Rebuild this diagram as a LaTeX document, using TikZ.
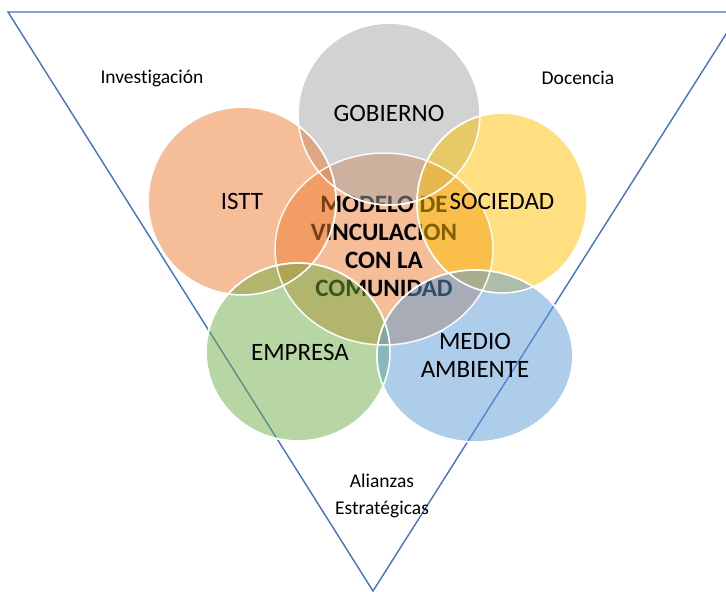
\documentclass[tikz,border=0pt]{standalone}
\usepackage{fontspec}
\setmainfont{Carlito}[Ligatures=NoCommon]
\definecolor{tri}{HTML}{4472C4}
\definecolor{cgray}{HTML}{A5A5A5}
\definecolor{corange}{HTML}{ED7D31}
\definecolor{cgold}{HTML}{FFC000}
\definecolor{cgreen}{HTML}{70AD47}
\definecolor{cblue}{HTML}{5B9BD5}
\tikzset{
  venn/.style={draw=white, line width=1.5pt, fill opacity=0.5},
  big/.style={font=\fontsize{25}{28}\selectfont, align=center, inner sep=0pt},
  bigb/.style={font=\fontsize{25}{28}\selectfont\bfseries, align=center, inner sep=0pt},
  small/.style={font=\fontsize{19.5}{27}\selectfont, align=center, inner sep=0pt},
}
\begin{document}
\begin{tikzpicture}[x=1pt,y=-1pt]
\useasboundingbox (0,0) rectangle (726,592);
\clip (0,0) rectangle (726,592);
\coordinate (tl) at (8,12);
\coordinate (tr) at (740,12);
\coordinate (bt) at (373,591);
\draw[tri, line width=1.4pt, line join=miter] (tl) -- (tr) -- (bt) -- cycle;
\node[small] (inv) at (152,78) {Investigación};
\node[small] (doc) at (578,78) {Docencia};
\node[small] (ali) at (382,496) {Alianzas\\Estratégicas};
% centre circle and its text (beneath the others)
\fill[venn, fill=corange] (384,249) ellipse [x radius=109, y radius=96];
\node[bigb] (mod) at (384,246) {MODELO DE\\VINCULACION\\CON LA\\COMUNIDAD};
% outer circles
\fill[venn, fill=cgray] (389,114) circle [radius=91];
\fill[venn, fill=corange] (242,201) circle [radius=94];
\fill[venn, fill=cgold] (502,203) ellipse [x radius=85, y radius=90];
\fill[venn, fill=cgreen] (298,352) ellipse [x radius=92, y radius=89];
\fill[venn, fill=cblue] (475,356) ellipse [x radius=98, y radius=86];
\draw[venn, fill=none, draw opacity=0.9] (384,249) ellipse [x radius=109, y radius=96];
\draw[venn, fill=none] (389,114) circle [radius=91];
\draw[venn, fill=none] (242,201) circle [radius=94];
\draw[venn, fill=none] (502,203) ellipse [x radius=85, y radius=90];
\draw[venn, fill=none] (298,352) ellipse [x radius=92, y radius=89];
\draw[venn, fill=none] (475,356) ellipse [x radius=98, y radius=86];
% labels
\node[big] (gob) at (389,113) {GOBIERNO};
\node[big] (istt) at (242,201) {ISTT};
\node[big] (soc) at (502,201) {SOCIEDAD};
\node[big] (emp) at (300,352) {EMPRESA};
\node[big] (med) at (475,355) {MEDIO\\AMBIENTE};
\end{tikzpicture}
\end{document}
